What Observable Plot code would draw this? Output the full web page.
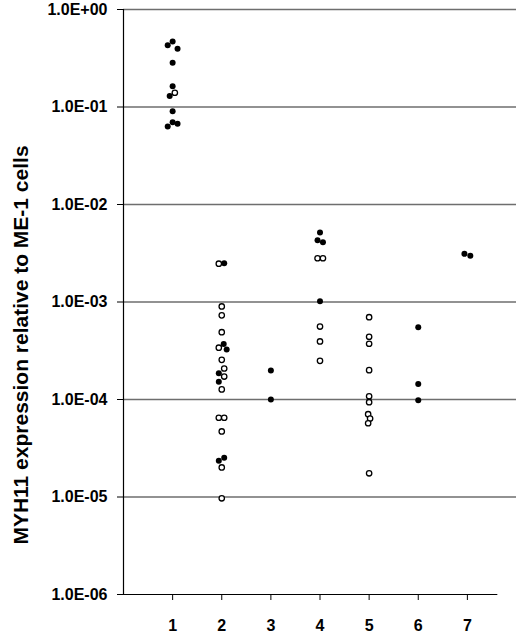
<!DOCTYPE html>
<html>
<head>
<meta charset="utf-8">
<script src="https://cdn.jsdelivr.net/npm/d3@7"></script>
<script src="https://cdn.jsdelivr.net/npm/@observablehq/plot@0.6"></script>
<style>
  html, body { margin: 0; padding: 0; background: white; }
  #chart { width: 520px; height: 636px; }
</style>
</head>
<body>
<div id="chart"></div>
<script>
// Categories (x axis) and y tick values
const categories = [1, 2, 3, 4, 5, 6, 7];
const yTicks = [1, 0.1, 0.01, 0.001, 0.0001, 0.00001, 0.000001];
const gridValues = [1, 0.1, 0.01, 0.001, 0.0001, 0.00001];
const yTitle = "MYH11 expression relative to ME-1 cells";

// Filled circles: group, value, small horizontal jitter (category units)
const filledGroup = [1,1,1,1,1,1,1,1,1,1, 2,2,2,2,2,2,2, 3,3, 4,4,4,4, 6,6,6, 7,7];
const filledValue = [0.43,0.47,0.395,0.284,0.163,0.130,0.0906,0.063,0.0698,0.0672,
  0.0025,0.00037,0.000326,0.000186,0.000152,0.0000252,0.0000235,
  0.000198,0.0001,
  0.00516,0.0043,0.0041,0.00102,
  0.000552,0.000144,0.0000984,
  0.00312,0.00298];
const filledOffset = [-0.1,0,0.1,0,0,-0.06,0,-0.1,0,0.1,
  0.05,0.04,0.1,-0.06,-0.06,0.05,-0.06,
  0,0,
  0,-0.05,0.06,0,
  0,0,0,
  -0.06,0.06];

// Open circles
const openGroup = [1, 2,2,2,2,2,2,2,2,2,2,2,2,2,2, 4,4,4,4,4, 5,5,5,5,5,5,5,5,5,5];
const openValue = [0.14,
  0.00247,0.0009,0.00073,0.00049,0.00034,0.000255,0.000208,0.000172,0.000127,0.000065,0.000065,0.000047,0.0000201,0.0000097,
  0.00281,0.00281,0.00056,0.000394,0.000249,
  0.000698,0.00044,0.000373,0.0002,0.000108,0.0000938,0.0000707,0.0000638,0.0000571,0.0000175];
const openOffset = [0.045,
  -0.06,0,0,0,-0.06,0,0.05,0.05,0,-0.06,0.05,0,0,0,
  -0.05,0.06,0,0,0,
  0,0,0,0,0,0,-0.02,0.02,-0.02,0];

const xDomain = [0, 8];
const xAxisEnd = 7.62;

const filled = filledGroup.map((g, i) => ({x: g + filledOffset[i], value: filledValue[i]}));
const open = openGroup.map((g, i) => ({x: g + openOffset[i], value: openValue[i]}));

const fmt = v => {
  const e = Math.round(Math.log10(v));
  return "1.0E" + (e >= 0 ? "+" : "-") + String(Math.abs(e)).padStart(2, "0");
};

const chart = Plot.plot({
  width: 520,
  height: 636,
  marginTop: 9,
  marginBottom: 42,
  marginLeft: 123,
  marginRight: 4,
  style: {
    fontFamily: "'Liberation Sans', Arial, sans-serif",
    fontSize: "16px",
    fontWeight: "bold",
    background: "white",
    color: "black"
  },
  x: {domain: xDomain, ticks: categories, tickFormat: d => String(d), tickSize: 6, tickPadding: 19, label: null},
  y: {type: "log", domain: [1e-6, 1], ticks: yTicks, tickFormat: fmt, tickSize: 6, tickPadding: 10, label: null},
  marks: [
    Plot.ruleY(gridValues, {x1: xDomain[0], x2: xDomain[1], stroke: "#6e6e6e", strokeWidth: 1.4}),
    Plot.ruleY([1e-6], {x1: xDomain[0], x2: xAxisEnd, stroke: "black", strokeWidth: 1.2}),
    Plot.ruleX([xDomain[0]], {y1: 1, y2: 1e-6, stroke: "black", strokeWidth: 1.2}),
    Plot.dot(open, {x: "x", y: "value", r: 2.7, fill: "white", stroke: "black", strokeWidth: 1.3}),
    Plot.dot(filled, {x: "x", y: "value", r: 3, fill: "black", stroke: "none"})
  ]
});

d3.select(chart).append("text")
  .attr("transform", "translate(28,345) rotate(-90)")
  .attr("text-anchor", "middle")
  .attr("font-size", 21)
  .attr("font-weight", "bold")
  .attr("fill", "black")
  .text(yTitle);

document.getElementById("chart").appendChild(chart);
</script>
</body>
</html>
